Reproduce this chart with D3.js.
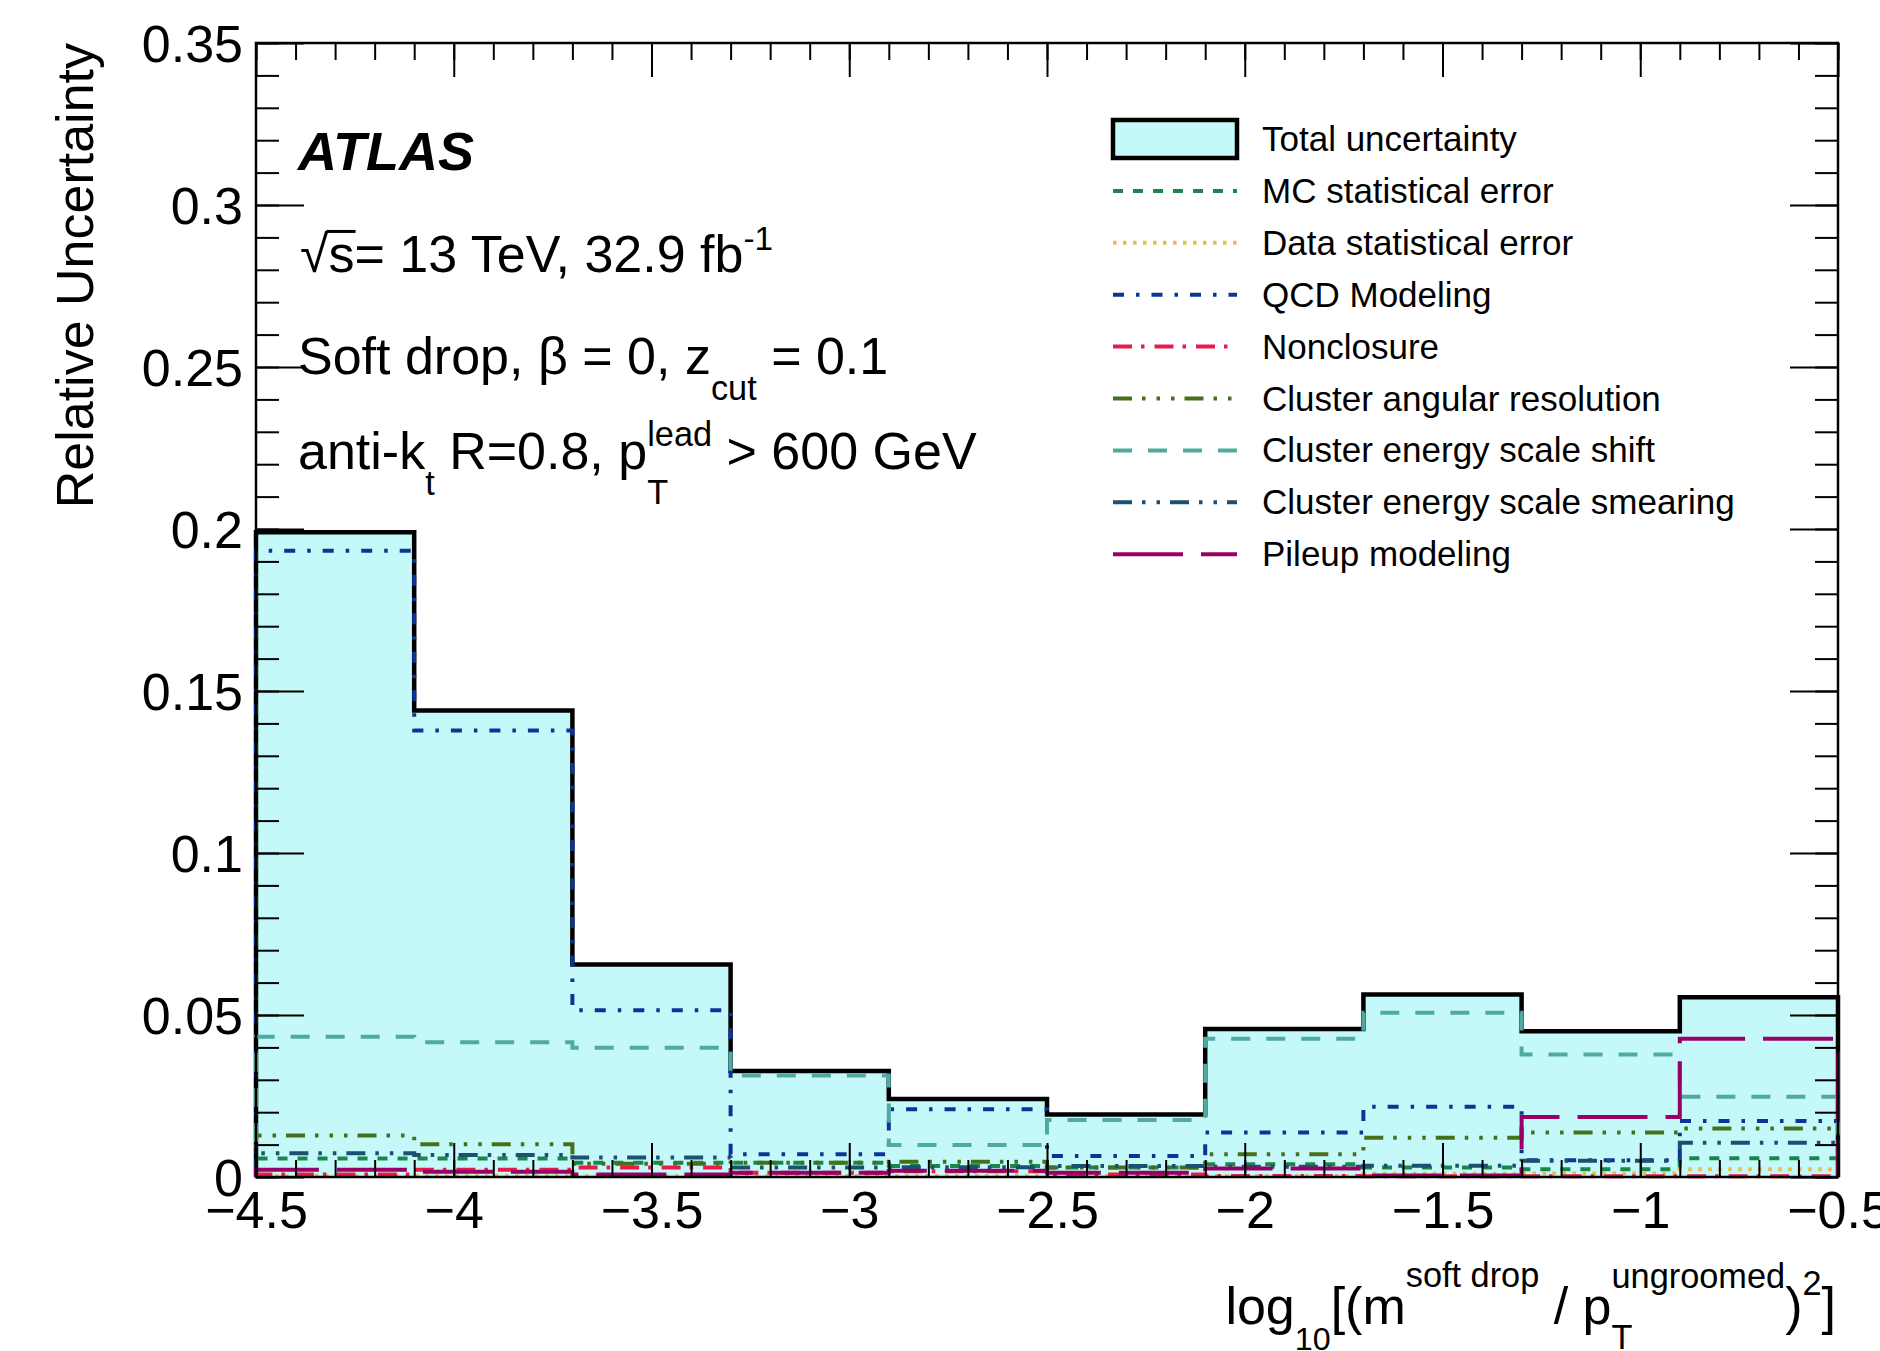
<!DOCTYPE html>
<html>
<head>
<meta charset="utf-8">
<script src="https://cdn.jsdelivr.net/npm/d3@7"></script>
<style>
  body { margin: 0; background: #fff; }
  svg text { font-family: "Liberation Sans", Arial, Helvetica, sans-serif; white-space: pre; fill: #000; }
</style>
</head>
<body>
<div id="chart"></div>
<script>
// bin edges of log10[(m/pT)^2]
const binEdges = [-4.5, -4.1, -3.7, -3.3, -2.9, -2.5, -2.1, -1.7, -1.3, -0.9, -0.5];

// relative uncertainties per bin
const totalUncertainty = [0.199, 0.144, 0.0656, 0.0327, 0.0241, 0.0193, 0.0457, 0.0563, 0.0450, 0.0555];
const mcStatError      = [0.0057, 0.0057, 0.0044, 0.0044, 0.0034, 0.0029, 0.0039, 0.0029, 0.0024, 0.0058];
const dataStatError    = [0.0003, 0.0003, 0.0003, 0.0003, 0.0003, 0.0003, 0.0003, 0.0010, 0.0011, 0.0024];
const qcdModeling      = [0.1933, 0.1378, 0.0515, 0.0070, 0.0209, 0.0065, 0.0137, 0.0217, 0.0052, 0.0173];
const nonclosure       = [0.0008, 0.0022, 0.0029, 0.0013, 0.0018, 0.0008, 0.0003, 0.0002, 0.0002, 0.0002];
const clusterAngular   = [0.0128, 0.0101, 0.0041, 0.0044, 0.0047, 0.0029, 0.0070, 0.0121, 0.0137, 0.0150];
const clusterESShift   = [0.0433, 0.0416, 0.0399, 0.0313, 0.0099, 0.0176, 0.0427, 0.0507, 0.0378, 0.0248];
const clusterESSmear   = [0.0073, 0.0068, 0.0060, 0.0029, 0.0030, 0.0034, 0.0032, 0.0035, 0.0050, 0.0106];
const pileupModeling   = [0.0022, 0.0016, 0.0008, 0.0013, 0.0019, 0.0013, 0.0026, 0.0005, 0.0185, 0.0427];

const legendLabels = ["Total uncertainty", "MC statistical error", "Data statistical error", "QCD Modeling",
  "Nonclosure", "Cluster angular resolution", "Cluster energy scale shift",
  "Cluster energy scale smearing", "Pileup modeling"];

const yTickValues = [0, 0.05, 0.1, 0.15, 0.2, 0.25, 0.3, 0.35];
const yTickLabels = ["0", "0.05", "0.1", "0.15", "0.2", "0.25", "0.3", "0.35"];
const xTickValues = [-4.5, -4, -3.5, -3, -2.5, -2, -1.5, -1, -0.5];
const xTickLabels = ["\u22124.5", "\u22124", "\u22123.5", "\u22123", "\u22122.5", "\u22122", "\u22121.5", "\u22121", "\u22120.5"];

// line styles for the components (same order as legend, after total)
const components = [
  {values: mcStatError,    color: "#17884c", dash: "10,10"},
  {values: dataStatError,  color: "#e6bd45", dash: "3.5,6.5"},
  {values: qcdModeling,    color: "#0a3597", dash: "11,12,3.5,12"},
  {values: nonclosure,     color: "#e81c4c", dash: "19,9,3.5,10"},
  {values: clusterAngular, color: "#44701a", dash: "19,10,3.5,11,3.5,11,3.5,10"},
  {values: clusterESShift, color: "#50aaa0", dash: "19,16"},
  {values: clusterESSmear, color: "#1a5070", dash: "19,10,3.5,11,3.5,10"},
  {values: pileupModeling, color: "#990066", dash: "70,18"}
];

const W = 1880, H = 1351;
const plot = {left: 256, right: 1838, top: 43, bottom: 1177};

const svg = d3.select("#chart").append("svg")
  .attr("width", W).attr("height", H);
svg.append("rect").attr("width", W).attr("height", H).attr("fill", "#fff");

const x = d3.scaleLinear().domain([-4.5, -0.5]).range([plot.left, plot.right]);
const y = d3.scaleLinear().domain([0, 0.35]).range([plot.bottom, plot.top]);

// step outline points of a histogram
function stepPoints(vals) {
  const pts = [[binEdges[0], 0]];
  vals.forEach((v, i) => { pts.push([binEdges[i], v]); pts.push([binEdges[i + 1], v]); });
  pts.push([binEdges[binEdges.length - 1], 0]);
  return pts;
}
const line = d3.line().x(d => x(d[0])).y(d => y(d[1]));

// filled total
const area = d3.area()
  .x(d => x(d[0])).y0(y(0)).y1(d => y(d[1]));
svg.append("path")
  .attr("d", area(stepPoints(totalUncertainty)))
  .attr("fill", "#c5f8f8");
svg.append("path")
  .attr("d", line(stepPoints(totalUncertainty)))
  .attr("fill", "none").attr("stroke", "#000").attr("stroke-width", 4.5)
  .attr("stroke-linejoin", "miter");

components.forEach(c => {
  svg.append("path")
    .attr("d", line(stepPoints(c.values)))
    .attr("fill", "none").attr("stroke", c.color).attr("stroke-width", 4)
    .attr("stroke-dasharray", c.dash);
});

// axes: inward ticks on all four sides
const tickFont = 52;
function yMinor() { return d3.range(0, 0.3501, 0.01); }
function xMinor() { return d3.range(-4.5, -0.4999, 0.1); }

const yAxisL = svg.append("g").attr("transform", `translate(${plot.left},0)`)
  .call(d3.axisLeft(y).tickValues(yTickValues).tickSize(-48).tickPadding(13)
    .tickFormat((d, i) => yTickLabels[i]));
svg.append("g").attr("transform", `translate(${plot.left},0)`)
  .call(d3.axisLeft(y).tickValues(yMinor()).tickSize(-23).tickFormat(""));
svg.append("g").attr("transform", `translate(${plot.right},0)`)
  .call(d3.axisRight(y).tickValues(yTickValues).tickSize(-48).tickFormat(""));
svg.append("g").attr("transform", `translate(${plot.right},0)`)
  .call(d3.axisRight(y).tickValues(yMinor()).tickSize(-23).tickFormat(""));

const xAxisB = svg.append("g").attr("transform", `translate(0,${plot.bottom})`)
  .call(d3.axisBottom(x).tickValues(xTickValues).tickSize(-34).tickPadding(14)
    .tickFormat((d, i) => xTickLabels[i]));
svg.append("g").attr("transform", `translate(0,${plot.bottom})`)
  .call(d3.axisBottom(x).tickValues(xMinor()).tickSize(-17).tickFormat(""));
svg.append("g").attr("transform", `translate(0,${plot.top})`)
  .call(d3.axisTop(x).tickValues(xTickValues).tickSize(-34).tickFormat(""));
svg.append("g").attr("transform", `translate(0,${plot.top})`)
  .call(d3.axisTop(x).tickValues(xMinor()).tickSize(-17).tickFormat(""));

svg.selectAll(".domain").remove();
svg.selectAll(".tick line").attr("stroke", "#000").attr("stroke-width", 2);
svg.selectAll(".tick text").attr("font-size", tickFont).attr("fill", "#000")
  .style("font-family", '"Liberation Sans", Arial, sans-serif');
yAxisL.selectAll(".tick text").attr("dy", "0.36em");

svg.append("rect")
  .attr("x", plot.left).attr("y", plot.top)
  .attr("width", plot.right - plot.left).attr("height", plot.bottom - plot.top)
  .attr("fill", "none").attr("stroke", "#000").attr("stroke-width", 2.5);

// rich text: segments with size factor k, vertical offset dy (em of base), stacked sub/sup pairs
function rich(x0, y0, fs, segs, anchor, extra) {
  const g = svg.append("g");
  let cx = 0;
  function put(s) {
    const el = g.append("text").attr("x", cx).attr("y", (s.dy || 0) * fs)
      .attr("font-size", (s.k || 1) * fs).text(s.t);
    if (extra) el.attr("font-weight", extra.weight || null).attr("font-style", extra.style || null);
    return el.node().getComputedTextLength();
  }
  segs.forEach(s => {
    if (s.stack) {
      const w = Math.max(put(s.stack[0]), put(s.stack[1]));
      cx += w;
    } else if (s.bar) {
      const w = put(s);
      g.append("line").attr("x1", cx - 2).attr("x2", cx + w + 1)
        .attr("y1", -0.78 * fs).attr("y2", -0.78 * fs)
        .attr("stroke", "#000").attr("stroke-width", 3);
      cx += w;
    } else {
      cx += put(s);
    }
  });
  const sx = anchor === "end" ? x0 - cx : x0;
  g.attr("transform", `translate(${sx},${y0})`);
  return g;
}

// y title
svg.append("text")
  .attr("transform", `translate(93,${plot.top}) rotate(-90)`)
  .attr("text-anchor", "end").attr("font-size", 52)
  .text("Relative Uncertainty");

// x title
rich(1836, 1324, 52, [
  {t: "log"}, {t: "10", k: 0.62, dy: 0.5}, {t: "[(m"},
  {t: "soft drop", k: 0.66, dy: -0.72}, {t: " / p"},
  {stack: [{t: "T", k: 0.66, dy: 0.48}, {t: "ungroomed", k: 0.66, dy: -0.7}]},
  {t: ")"}, {t: "2", k: 0.66, dy: -0.55}, {t: "]"}
], "end");

// annotations
rich(298, 170, 54, [{t: "ATLAS"}], "start", {weight: "bold", style: "italic"});
rich(300, 272, 52, [
  {t: "\u221A"}, {t: "s", bar: true}, {t: "= 13 TeV, 32.9 fb"}, {t: "-1", k: 0.64, dy: -0.42}
], "start");
rich(298, 374, 52, [
  {t: "Soft drop, \u03B2 = 0, z"}, {t: "cut", k: 0.66, dy: 0.5}, {t: " = 0.1"}
], "start");
rich(298, 469, 52, [
  {t: "anti-k"}, {t: "t", k: 0.66, dy: 0.5}, {t: " R=0.8, p"},
  {stack: [{t: "T", k: 0.66, dy: 0.68}, {t: "lead", k: 0.66, dy: -0.44}]},
  {t: " > 600 GeV"}
], "start");

// legend
const leg = {x0: 1113, x1: 1237, tx: 1262, y0: 139, step: 51.9, fs: 35};
legendLabels.forEach((lab, i) => {
  const cy = leg.y0 + i * leg.step;
  if (i === 0) {
    svg.append("rect").attr("x", leg.x0).attr("y", cy - 19)
      .attr("width", leg.x1 - leg.x0).attr("height", 38)
      .attr("fill", "#c5f8f8").attr("stroke", "#000").attr("stroke-width", 4.5);
  } else {
    const c = components[i - 1];
    svg.append("line").attr("x1", leg.x0).attr("x2", leg.x1).attr("y1", cy).attr("y2", cy)
      .attr("stroke", c.color).attr("stroke-width", 4).attr("stroke-dasharray", c.dash);
  }
  svg.append("text").attr("x", leg.tx).attr("y", cy + 12)
    .attr("font-size", leg.fs).text(lab);
});
</script>
</body>
</html>
